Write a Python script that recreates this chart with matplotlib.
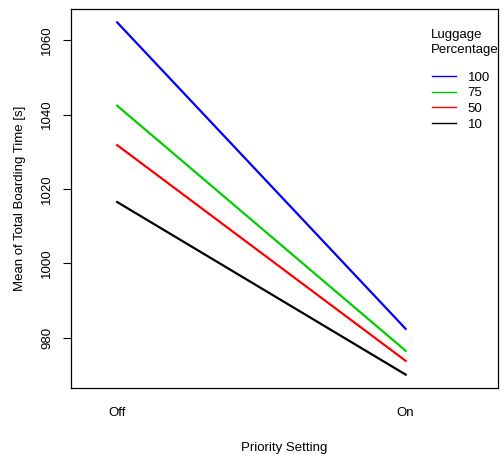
import numpy as np
import matplotlib.pyplot as plt

plt.rcParams['font.family'] = ['Liberation Sans', 'DejaVu Sans']

# interaction plot: mean boarding time by priority setting and luggage %
priority = ['Off', 'On']
luggage = ['100', '75', '50', '10']
colors = ['blue', '#00cc00', 'red', 'black']
mean_time = {
    '100': [1064.8, 982.4],
    '75': [1042.4, 976.5],
    '50': [1031.8, 973.8],
    '10': [1016.5, 970.1],
}

fs = 9.5
fig = plt.figure(figsize=(5.04, 4.55), dpi=100)
ax = fig.add_axes([71/504, 67/455, 427/504, 379/455])

x = np.arange(1, len(priority) + 1)
for lug, col in zip(luggage, colors):
    ax.plot(x, mean_time[lug], color=col, lw=1.6, label=lug)

ax.set_xlim(0.84, 2.32)
ax.set_ylim(966.5, 1068.4)
ax.set_xticks(x)
ax.set_xticklabels(priority)
ax.tick_params(axis='x', length=0, pad=14, labelsize=fs)
ax.set_yticks([980, 1000, 1020, 1040, 1060])
ax.tick_params(axis='y', length=6, width=0.8, pad=7, labelsize=fs, labelrotation=90)
for lbl in ax.get_yticklabels():
    lbl.set_va('center')
ax.set_xlabel('Priority Setting', fontsize=fs, labelpad=16)
ax.set_ylabel('Mean of Total Boarding Time [s]', fontsize=fs, labelpad=11)
for s in ax.spines.values():
    s.set_linewidth(0.9)

ax.text(0.843, 0.948, 'Luggage\nPercentage', transform=ax.transAxes,
        fontsize=fs, ha='left', va='top', linespacing=1.4)
leg = ax.legend(frameon=False, fontsize=fs, loc='upper left',
                bbox_to_anchor=(0.818, 0.867), handlelength=1.8,
                handletextpad=0.9, labelspacing=0.26)
for ln in leg.get_lines():
    ln.set_linewidth(1.0)

fig.savefig('out.png', dpi=100)
